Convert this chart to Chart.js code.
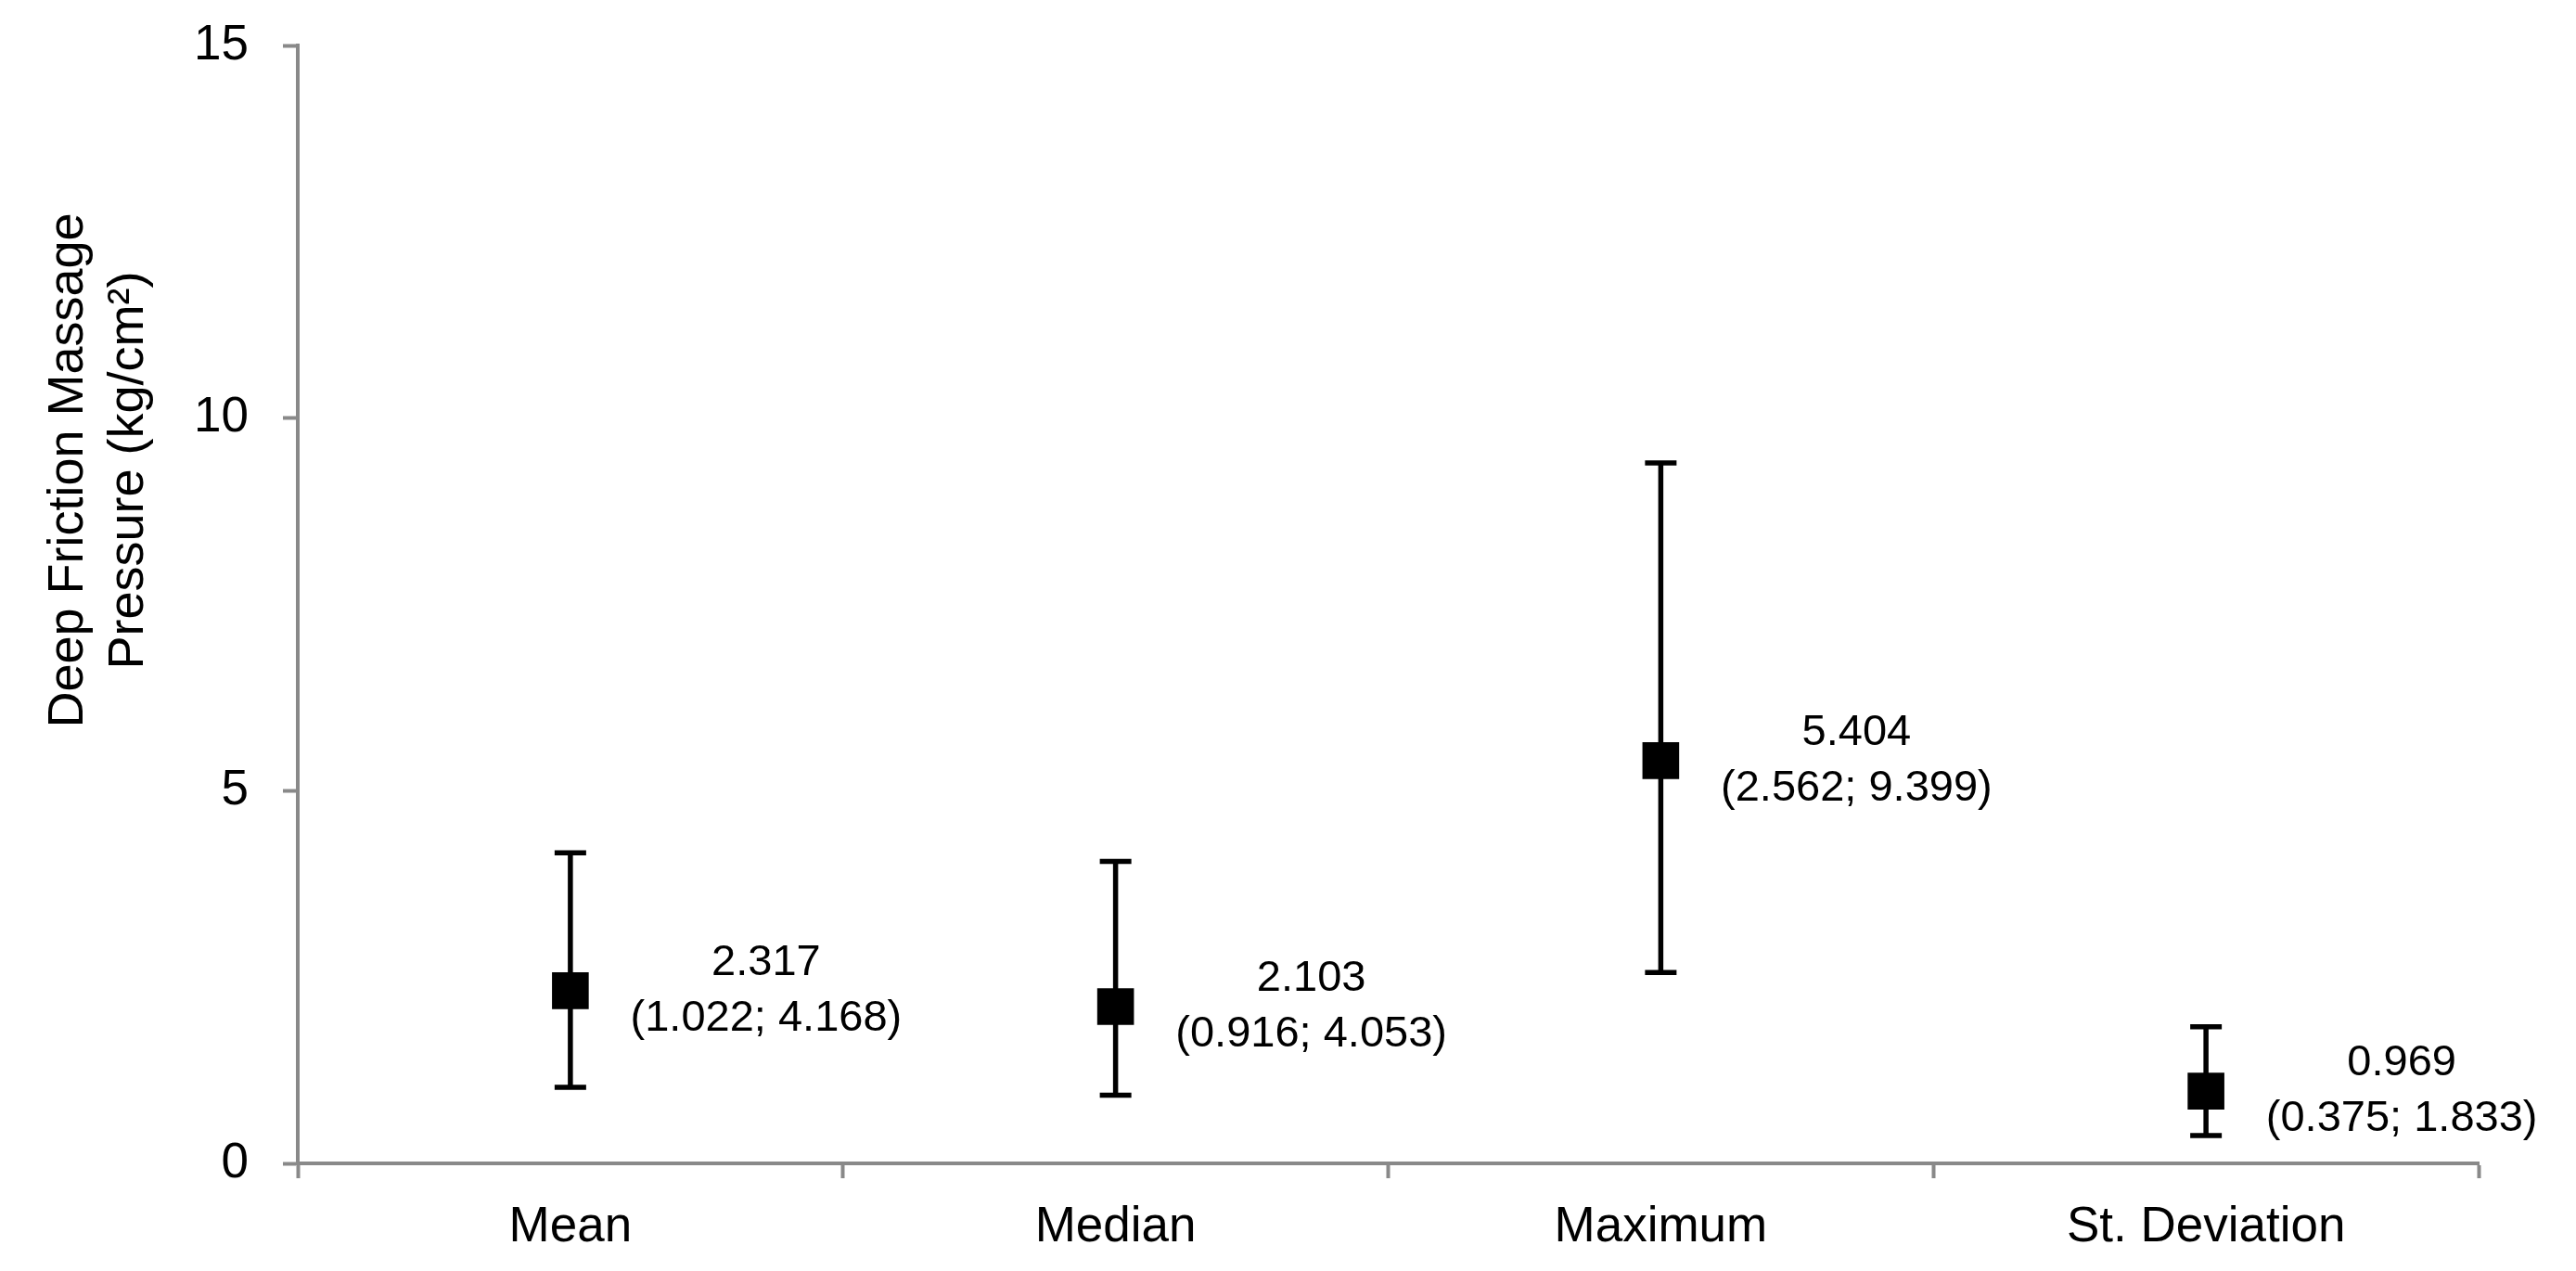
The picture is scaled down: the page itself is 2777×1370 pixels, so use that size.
<!DOCTYPE html>
<html>
<head>
<meta charset="utf-8">
<script src="https://cdn.jsdelivr.net/npm/chart.js@4/dist/chart.umd.min.js"></script>
<style>
  html, body { margin: 0; padding: 0; background: #fff; }
  canvas { display: block; }
</style>
</head>
<body>
<canvas id="chart" width="2777" height="1370"></canvas>
<script>
// values
const categories = ['Mean', 'Median', 'Maximum', 'St. Deviation'];
const estimates = [2.317, 2.103, 5.404, 0.969];
const lower = [1.022, 0.916, 2.562, 0.375];
const upper = [4.168, 4.053, 9.399, 1.833];
const yTicks = [0, 5, 10, 15];
const yTitle = ['Deep Friction Massage', 'Pressure (kg/cm\u00B2)'];

const AXIS = '#898989';
const FONT = "'Liberation Sans', Arial, sans-serif";

// whiskers for each point, drawn under the square markers
const errorBars = {
  id: 'errorBars',
  beforeDatasetsDraw(chart) {
    const ctx = chart.ctx;
    const y = chart.scales.y;
    const pts = chart.getDatasetMeta(0).data;
    ctx.save();
    ctx.strokeStyle = '#000';
    ctx.lineWidth = 5.5;
    pts.forEach((p, i) => {
      const top = y.getPixelForValue(upper[i]);
      const bot = y.getPixelForValue(lower[i]);
      ctx.beginPath();
      ctx.moveTo(p.x, top);
      ctx.lineTo(p.x, bot);
      ctx.moveTo(p.x - 17, top);
      ctx.lineTo(p.x + 17, top);
      ctx.moveTo(p.x - 17, bot);
      ctx.lineTo(p.x + 17, bot);
      ctx.stroke();
    });
    ctx.restore();
  }
};

// "value (low; high)" labels to the right of each marker
const pointLabels = {
  id: 'pointLabels',
  afterDatasetsDraw(chart) {
    const ctx = chart.ctx;
    const pts = chart.getDatasetMeta(0).data;
    ctx.save();
    ctx.fillStyle = '#000';
    ctx.font = '47px ' + FONT;
    ctx.textAlign = 'center';
    ctx.textBaseline = 'middle';
    pts.forEach((p, i) => {
      const cx = p.x + 211;
      ctx.fillText(estimates[i].toFixed(3), cx, p.y - 30);
      ctx.fillText('(' + lower[i].toFixed(3) + '; ' + upper[i].toFixed(3) + ')', cx, p.y + 30);
    });
    ctx.restore();
  }
};

// two-line rotated y title (sits higher than the axis centre in the original)
const yAxisTitle = {
  id: 'yAxisTitle',
  afterDraw(chart) {
    const ctx = chart.ctx;
    ctx.save();
    ctx.fillStyle = '#000';
    ctx.font = '54px ' + FONT;
    ctx.textAlign = 'center';
    ctx.textBaseline = 'alphabetic';
    const cy = 507;
    [89, 154].forEach((bx, k) => {
      ctx.save();
      ctx.translate(bx, cy);
      ctx.rotate(-Math.PI / 2);
      ctx.fillText(yTitle[k], 0, 0);
      ctx.restore();
    });
    ctx.restore();
  }
};

new Chart(document.getElementById('chart'), {
  type: 'line',
  data: {
    labels: categories,
    datasets: [{
      data: estimates,
      showLine: false,
      pointStyle: 'rect',
      pointRadius: 28,
      pointHoverRadius: 28,
      pointBackgroundColor: '#000',
      pointBorderWidth: 0
    }]
  },
  options: {
    responsive: false,
    animation: false,
    devicePixelRatio: 1,
    layout: { padding: { left: 0, top: 49, right: 105, bottom: 0 } },
    plugins: {
      legend: { display: false },
      tooltip: { enabled: false }
    },
    scales: {
      x: {
        type: 'category',
        offset: true,
        afterFit(scale) { scale.height = 116; },
        grid: {
          offset: true,
          drawOnChartArea: false,
          drawTicks: true,
          tickLength: 16,
          tickWidth: 4,
          tickColor: AXIS
        },
        border: { color: AXIS, width: 4 },
        ticks: {
          color: '#000',
          font: { family: FONT, size: 53 },
          padding: 22,
          maxRotation: 0
        }
      },
      y: {
        min: 0,
        max: 15,
        afterFit(scale) {
          scale.width = 321;
          scale.paddingTop = 0;
          scale.paddingBottom = 0;
        },
        afterBuildTicks(scale) { scale.ticks = yTicks.map(v => ({ value: v })); },
        grid: {
          drawOnChartArea: false,
          drawTicks: true,
          tickLength: 16,
          tickWidth: 4,
          tickColor: AXIS
        },
        border: { color: AXIS, width: 4 },
        ticks: {
          color: '#000',
          font: { family: FONT, size: 53 },
          padding: 37
        }
      }
    }
  },
  plugins: [errorBars, pointLabels, yAxisTitle]
});
</script>
</body>
</html>
